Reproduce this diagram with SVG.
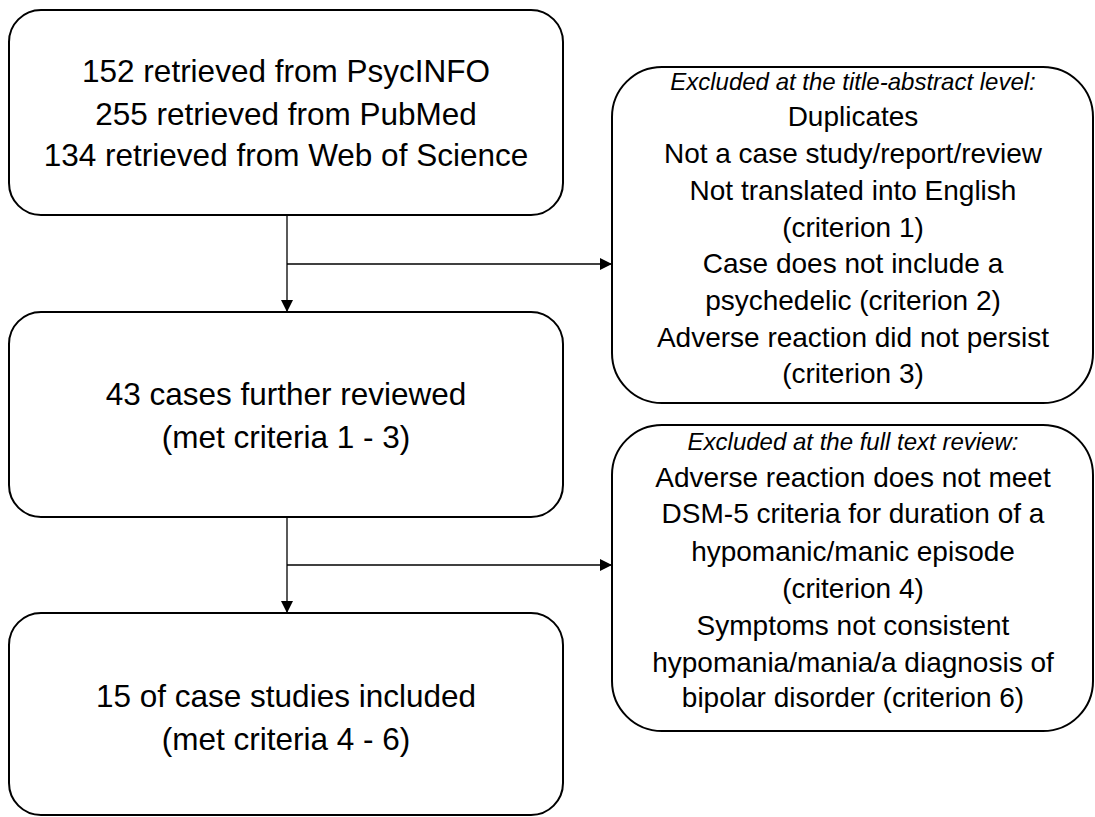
<svg xmlns="http://www.w3.org/2000/svg" width="1095" height="817" viewBox="0 0 1095 817">
<style>
.box{fill:#fff;stroke:#000;stroke-width:2}
.t{font-family:"Liberation Sans",Arial,sans-serif;fill:#000;text-anchor:middle}
.main{font-size:31.5px}
.side{font-size:28px}
.cap{font-size:24px;font-style:italic}
.conn{fill:none;stroke:#000;stroke-width:1.3}
</style>
<defs>
<marker id="arr" markerUnits="userSpaceOnUse" markerWidth="14" markerHeight="14" refX="12" refY="6" orient="auto">
<path d="M0,0 L12,6 L0,12 Z" fill="#000"/>
</marker>
</defs>
<rect width="1095" height="817" fill="#fff"/>
<g id="connectors">
<line class="conn" x1="287" y1="215" x2="287" y2="312" marker-end="url(#arr)"/>
<line class="conn" x1="287" y1="264" x2="612" y2="264" marker-end="url(#arr)"/>
<line class="conn" x1="287" y1="517" x2="287" y2="613" marker-end="url(#arr)"/>
<line class="conn" x1="287" y1="565" x2="612" y2="565" marker-end="url(#arr)"/>
</g>
<g id="n1">
<rect class="box" x="9" y="10" width="554" height="205" rx="32"/>
<text class="t main" x="286" y="82">152 retrieved from PsycINFO</text>
<text class="t main" x="286" y="125">255 retrieved from PubMed</text>
<text class="t main" x="286" y="166">134 retrieved from Web of Science</text>
</g>
<g id="n2">
<rect class="box" x="9" y="312" width="554" height="205" rx="32"/>
<text class="t main" x="286" y="405">43 cases further reviewed</text>
<text class="t main" x="286" y="448">(met criteria 1 - 3)</text>
</g>
<g id="n3">
<rect class="box" x="9" y="613" width="554" height="202" rx="32"/>
<text class="t main" x="286" y="707">15 of case studies included</text>
<text class="t main" x="286" y="750">(met criteria 4 - 6)</text>
</g>
<g id="n4">
<rect class="box" x="612" y="67" width="481" height="336" rx="50"/>
<text class="t cap" x="853" y="90">Excluded at the title-abstract level:</text>
<text class="t side" x="853" y="126">Duplicates</text>
<text class="t side" x="853" y="163">Not a case study/report/review</text>
<text class="t side" x="853" y="200">Not translated into English</text>
<text class="t side" x="853" y="237">(criterion 1)</text>
<text class="t side" x="853" y="273">Case does not include a</text>
<text class="t side" x="853" y="310">psychedelic (criterion 2)</text>
<text class="t side" x="853" y="347">Adverse reaction did not persist</text>
<text class="t side" x="853" y="383">(criterion 3)</text>
</g>
<g id="n5">
<rect class="box" x="612" y="425" width="481" height="306" rx="50"/>
<text class="t cap" x="853" y="450">Excluded at the full text review:</text>
<text class="t side" x="853" y="487">Adverse reaction does not meet</text>
<text class="t side" x="853" y="523">DSM-5 criteria for duration of a</text>
<text class="t side" x="853" y="561">hypomanic/manic episode</text>
<text class="t side" x="853" y="598">(criterion 4)</text>
<text class="t side" x="853" y="635">Symptoms not consistent</text>
<text class="t side" x="853" y="672">hypomania/mania/a diagnosis of</text>
<text class="t side" x="853" y="707">bipolar disorder (criterion 6)</text>
</g>
</svg>
